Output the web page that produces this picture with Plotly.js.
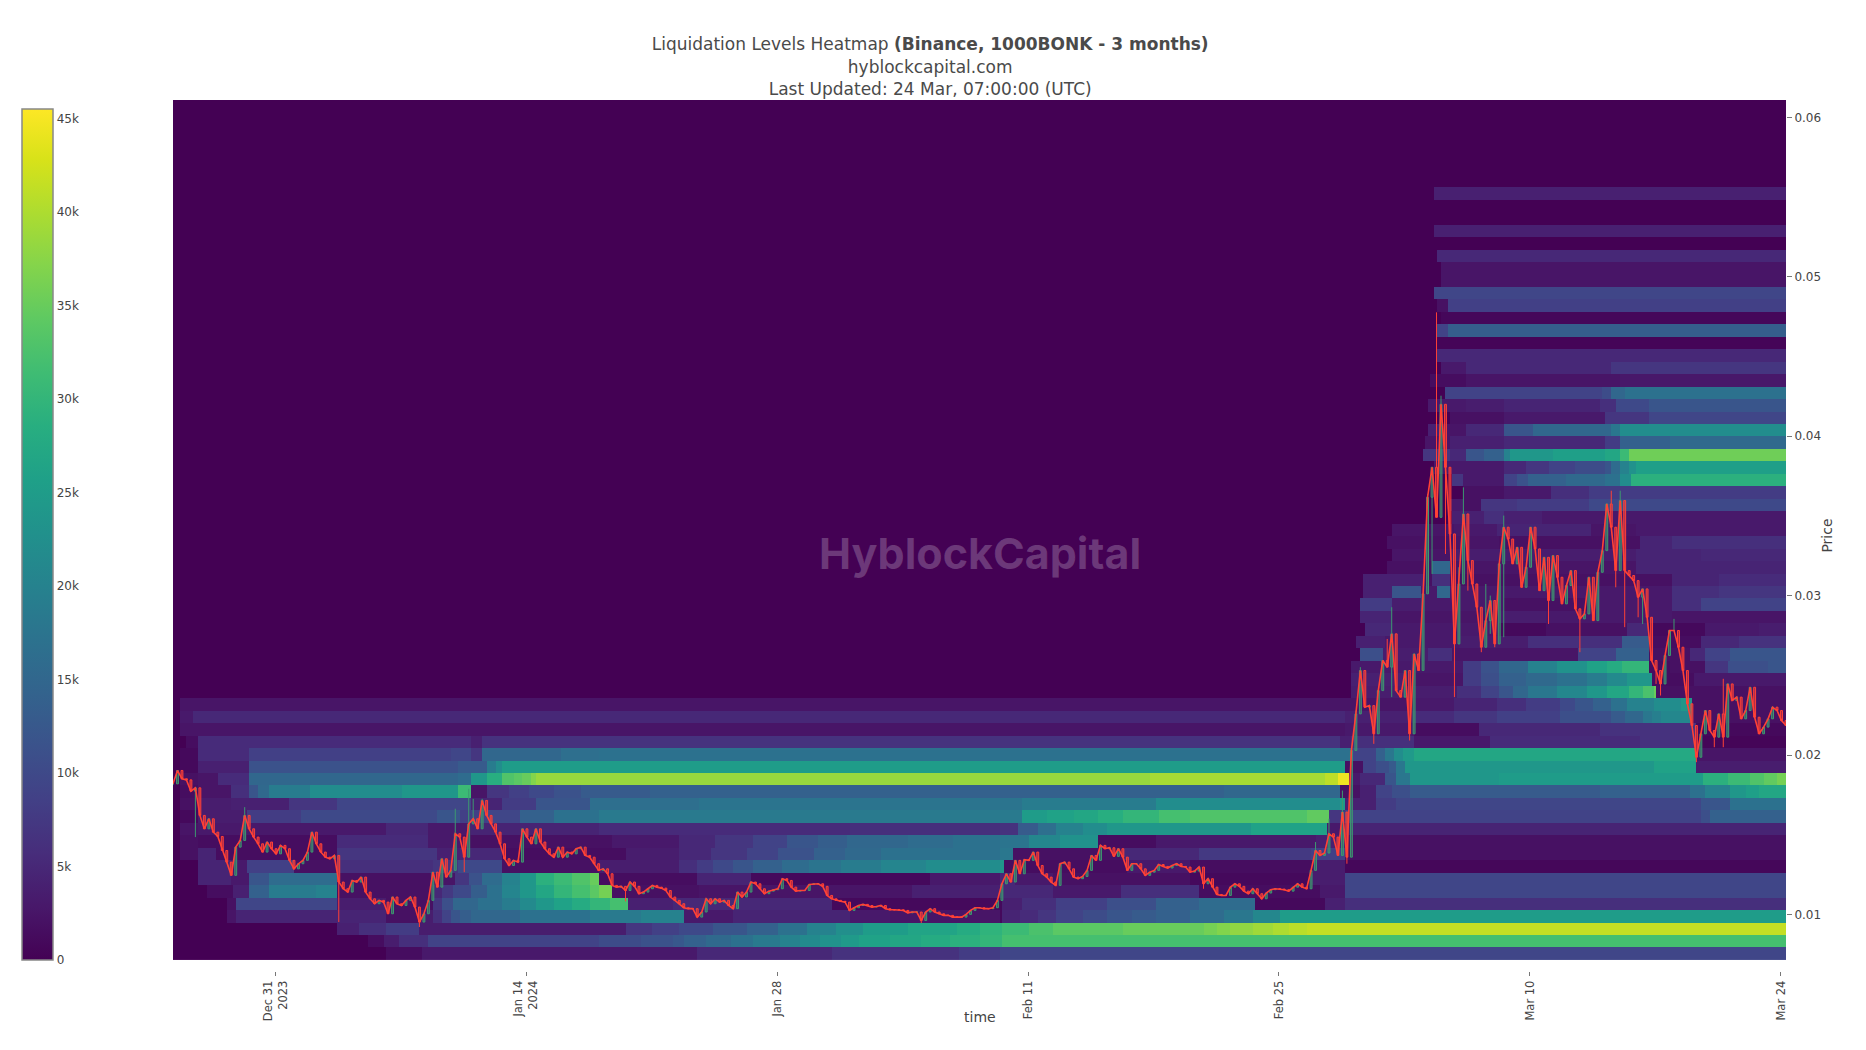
<!DOCTYPE html>
<html>
<head>
<meta charset="utf-8">
<script src="https://cdn.plot.ly/plotly-3.0.1.min.js"></script>
<style>html,body{margin:0;padding:0;background:#fff}#chart{width:1866px;height:1050px}</style>
</head>
<body>
<div id="chart"></div>
<script>
// Times are days after the first candle, prices are in units of 0.00001.
const START = "2023-12-25T07:00:00Z";
const CANDLE_HOURS = 6;
const CELL_HOURS = 3;
const CELL_COUNT = 720;
const PRICE_LOW = 0.00717;
const PRICE_BIN = 0.0007815;

const closes = [
1819,1903,1851,1844,1773,1794,1621,1537,1600,1516,1489,1401,1328,1245,1422,1464,1621,1537,1485,1443,
1391,1454,1412,1380,1433,1412,1339,1286,1318,1339,1391,1516,1443,1391,1359,1349,1370,1203,1161,1140,
1213,1203,1234,1140,1098,1067,1088,1077,1004,1109,1067,1056,1088,1109,1046,952,1004,1088,1265,1171,
1349,1234,1276,1506,1485,1359,1568,1600,1537,1715,1621,1568,1516,1443,1349,1307,1339,1328,1537,1485,
1443,1537,1454,1412,1380,1359,1422,1359,1391,1380,1412,1422,1370,1359,1318,1276,1286,1255,1182,1171,
1176,1150,1203,1176,1130,1140,1161,1182,1171,1165,1150,1109,1088,1067,1042,1036,1036,983,1015,1098,
1067,1098,1077,1088,1056,1036,1140,1109,1140,1203,1192,1161,1130,1146,1155,1161,1224,1213,1171,1146,
1150,1150,1188,1192,1192,1176,1119,1098,1088,1082,1077,1025,1042,1056,1063,1056,1046,1050,1056,1036,
1029,1029,1029,1025,1010,1015,1015,962,1015,1036,1015,1004,994,994,983,983,983,1000,1025,1042,
1042,1036,1036,1042,1088,1192,1255,1203,1339,1255,1343,1339,1391,1307,1255,1234,1203,1182,1318,1328,
1286,1234,1224,1238,1276,1370,1339,1433,1412,1418,1364,1412,1359,1276,1318,1318,1286,1245,1265,1276,
1313,1301,1291,1307,1318,1301,1297,1265,1272,1297,1192,1224,1171,1125,1119,1119,1171,1192,1176,1146,
1130,1161,1130,1098,1134,1155,1161,1159,1155,1146,1171,1192,1171,1161,1276,1401,1370,1385,1506,1485,
1370,1642,1359,2028,2258,2530,2300,2310,2133,2404,2593,2551,2760,2404,2363,2530,2133,2634,2530,3011,
3617,3805,3491,4200,3805,3387,2697,3073,3512,3220,3073,2927,2676,2843,2969,2697,3199,3429,3355,3199,
3303,3052,3178,3429,3293,3031,3240,2969,3251,3115,2948,3063,3157,2917,2854,2885,3115,2843,3146,3282,
3575,3429,3157,3596,3157,3126,3094,2990,3042,2864,2593,2530,2446,2624,2781,2781,2676,2530,2321,2185,
1986,2133,2279,2154,2112,2258,2112,2446,2342,2363,2227,2279,2425,2237,2133,2175,2227,2300,2279,2216,
2185];

// candle index -> wick end, only where the wick is visible in the picture
const wickHigh = {16:1673,63:1663,66:1788,67:1725,69:1725,255:1454,258:1600,261:1777,264:2279,265:2551,
  271:2728,272:2927,280:3638,282:4777,283:4254,284:4077,286:3240,287:3178,288:3679,289:3324,
  293:3073,294:3000,297:3502,321:3658,323:3658,335:2854,346:2478};
const wickLow = {5:1485,37:952,55:921,65:1265,101:1082,167:946,230:1161,262:1318,268:2070,272:2363,276:2091,
  280:3115,281:3136,283:3596,284:3261,286:2363,287:2822,289:3031,292:2645,294:2760,295:2676,297:2739,
  307:2822,314:2645,322:3052,324:2802,327:2864,328:2822,331:2446,332:2373,340:1955,344:2049,346:2049};

// One row per price bin from the bottom up, as pairs: start day, level in thousands.
const levelRuns = [
[0,0,11.9,1.5,13.9,3,29.2,5,36.7,6.5,43.9,8,46.15,9.5],
[0,0,10.9,1.5,11.8,3.5,12.6,6,14.2,9,23.8,10.5,26.1,11.5,27.85,12.5,28.5,14,29.8,15.5,31.1,17,32.4,18.5,33.9,20,35,21.5,36.1,23,37.2,24.5,38.2,26,40,27,41.7,28,43.4,29,45,30,46.3,32],
[0,0,9.15,4,10.4,6,11.9,8,13.8,3.5,25.3,7,26.8,8.5,28.3,10,30.1,12,32,14,33.7,17,35.4,20,37,22.5,38.5,25,41,26.5,43.75,28,45,29.5,46.3,31,47.7,32.5,49.1,34,53,35,57.5,36,58.2,37,59,38,60.2,39,61.4,40,62.3,40.8,63.3,41.5],
[0,0,3,2.5,3.5,4.5,11.9,2,13.8,3.5,14.5,6,15,9,15.5,12,16,13.5,16.6,15,19.4,17,23.3,18.5,26.1,20,28.5,3,31.25,4.5,37.8,3,40,2.5,46.15,1,46.3,4.5,47.3,5.5,48.3,7,49.3,9,50.8,10.5,52.1,12,53.5,13,54.9,14,56.7,16,58.6,18,60.2,21,61.8,25],
[0,0,3,2,3.5,9.5,9.15,3.5,11.9,2,14.5,7,15,11,15.6,15,17,17,18.4,19,19.4,21.5,20.3,24,21.2,26,22.2,28,23.3,30,24.4,32,25.4,4,27.85,5,36.7,1,46.3,4,47.4,6,49.3,8.5,52.1,11,54.9,14,57.3,16,60.4,1,64.3,4,65.4,6],
[0,0,1.9,1.5,3.35,4,4.3,14,5.4,19,8,20,9.15,2,14.5,5,15,7.5,15.6,10,16.6,13.5,17.5,17,18.4,20.5,19.4,24,20.3,27,21.2,30,22.2,32,23.3,34,23.8,36,24.5,2,29.4,2.5,41.3,4,46.3,5,49.1,3,52.85,6,57.3,1.5,64,3,65.4,9.5],
[0,0,1.4,4.5,3.3,3,4.3,12,5.4,16,9.15,2,14.5,2.5,15.7,7,16.5,11.5,17.3,16,18.4,20,19.4,24,20.3,29,21.2,31,22.2,33,23.3,35,23.8,1.5,29.2,4.5,32.3,1,42.2,3,46.15,5,47,3,49.1,2,56.75,1,63.45,3.5,65.4,9.5],
[0,0,1.4,4.5,3.3,3,4.1,8.5,6.7,2,9.15,6,14.5,7,15.85,10,18.4,2,23.7,3.5,28.3,6,29.2,8,30.1,10,31.2,12,32.4,14,34,16,35.5,17.5,37.2,19,39.5,20.5,42,22,46.15,23.5,46.4,1.5,53.2,3,56.75,1.5,63.6,3.5,65.4,0.8],
[0,0,0.4,2,1.4,4.5,2.4,1.5,9.15,7,14.7,4,16,5,18.4,1.5,25.3,3.5,28.3,5,30,7,32,9,33.8,11.5,35.7,14,37.5,15.5,39.45,17,46.15,18,46.9,2,53,5,57.3,7.5,63.45,8.5,65.4,2],
[0,0,0.4,2,1.4,1.5,9.15,5.5,14.3,3,16,2,24.55,3,28.3,5,30.3,7,32.4,9,34.3,12,36,13.5,37.6,15,41,16,43.5,17,46.15,17.5,47.7,21,49.5,23,51.6,1.5,54.9,3,63.8,4,65.4,2],
[0,0,0.4,2.5,1.4,3,11.9,5,14.3,3,16.6,4.5,23.8,5.5,37.8,6,46.15,6.5,47.1,13,48.2,16.5,49.3,20,50.7,22,52.1,24,60.1,26,64.4,3,65.4,4.5],
[0,0,0.4,1,1.4,3.5,4.1,8,7.1,10,14.7,12,16,8.5,17.5,9.5,19.4,14,21.2,17,23.8,18.5,47.4,25,48.8,26,50.2,27,51.6,28.5,53,30,55,32,56.75,33,63.3,34.5,64.55,7,65.4,9,85.2,11,85.8,14],
[0,0,0.4,2,1.4,3.5,3.3,4,6.5,7,9.15,9.5,16.6,4.5,18.4,8,20.3,12,23.3,16.5,29.4,17.5,47.4,19,54.9,22,65.1,25,65.4,4,67.1,8,68.2,9.5,85.2,12,86.9,17],
[0,0,0.4,1.5,1.4,2.5,3.3,6,4.2,12,4.8,15.5,5.4,19,7.6,22,12.7,24,15.9,31,16.6,2.5,17.5,7,18.7,8.5,19.9,10,21.3,11.5,22.7,13,26.6,14,58.6,15,65.1,2,66.2,4,67.1,9,68,11,69,13,79.6,14,84.6,17,85.5,20,86.9,24,87.7,25.5,88.5,27],
[0,0,0.4,2,1.4,2.5,2.5,5.5,4.3,15,15.85,16,16.6,24,17.5,28.5,18.4,33,19,34,19.5,35,20,37,20.3,38.5,54.5,39.5,64.2,41,64.95,44.5,65.6,3,66.2,5,67.6,12,68.3,18,69,24,74.05,25,85.4,29,86.7,31,88,33,88.8,34.5,89.5,36],
[0,0,0.4,1,1.4,4,4.3,11.5,15.85,13,17.5,19,18,22,18.4,25,65.1,25.5,65.4,2,66.4,9,67.1,11,67.9,13,68.3,18,68.75,24,82.6,26,85,3.5],
[0,0,0.4,1,1.4,5.5,4.3,8.5,15.5,9.5,16.6,7,17.3,15,21.6,16.5,23.8,17,65.8,9,67.1,14,67.6,18,68.1,22,68.6,24.5,69.2,27,81.9,27.5,85,2.5],
[0,0,0.7,1.5,1.4,5.5,16.6,4,17.3,6.5,65.1,4,65.8,6,69.2,3,73.5,5.5,81.9,6.5,85,0.5],
[0,0,0.4,2.5,65.4,3,69.2,1.5,72.9,5,79.6,6.5,85,1],
[0,0,0.4,3,1.1,5,65.4,4,69.2,5.5,71.5,7,73.9,8.5,77.4,11,80.2,13,81,15,82,18,82.5,19.5,83,21,84.8,2],
[0,0,0.4,2.5,69.2,3,71.5,4.5,73.9,6,75.5,8,77.4,10,78.3,12,79.25,14,80.2,17,81.1,20,82.6,22,84.1,24,84.7,2],
[0,0,65.8,3.5,71.65,6,73,9,73.95,12,74.8,15,75.6,18,77.2,21,78.9,24,80,27,81.2,30,82,32.5,82.6,35,82.7,2],
[0,0,65.8,4,68.75,2.5,72,8,73,11,73.95,14,75.5,15.5,77.2,17,78.9,19,80,21.5,81.1,24,82.5,1.5,84.9,3],
[0,0,65.8,3,72,8,73,11.5,74.05,15,75.6,20,77.2,23,78.9,26,80,28,80.9,30,82.4,1.5,83.55,2,85.5,7,86.7,11,89,12],
[0,0,66.3,11,67.5,3.5,70,6,71.4,2.5,78.4,9,80.45,14,82.4,2,84.65,5,85.5,9,86.9,12],
[0,0,66,4,67.6,3,71.8,3.5,75.6,6,80.9,13,82.4,1.5,85.2,5,87.4,6.5],
[0,0,66.5,5,68,3,74.05,1,76.6,2,81.1,5,82.4,1,85.5,3,88.5,3.5],
[0,0,66.3,4.5,68,2.5,74.05,3.5,76.6,3,83.6,2.5],
[0,0,66.3,8,68,3.5,69.6,3,74.3,2,78.9,3,83.6,6,85.2,9],
[0,0,66.35,4,68,12,69.6,3,70.5,15,71.3,3,83.6,6,86.3,7],
[0,0,66.35,4,69.9,2,70.3,6,71.3,2,83.6,4.5,86.3,5.5],
[0,0,67.7,2,70.3,15,71.3,2.5,81.6,4.5],
[0,0,68,2.5,71.3,3.5,81.6,4.5,85.2,5],
[0,0,67.7,2,71.5,2.5,74.05,2,81.9,4.5,83.6,6],
[0,0,68,2.5,71.5,3,73.9,4.5,79.1,2.5,81.6,3],
[0,0,71.4,4,73.1,6,74.2,4,76.4,3],
[0,0,71.3,3,72,2,73,7,75,8,79,10],
[0,0,72,2,74.2,3,76.9,6,79,8],
[0,0,71.4,7,72,3,74.3,9,75,11.5,75.6,14,77.7,15.5,79.9,17,80.75,22,81.4,29],
[0,0,70.4,3,74.3,5,75.5,7,76.8,9,78.3,10.5,79.9,12,80.3,16,80.75,20,81.2,23,81.6,25.5],
[0,0,69.8,7,71.3,5,72.15,12,73.1,14,74.2,20,74.6,24,77,25.5,79.9,27,80.75,31,81.2,35.5],
[0,0,69.9,2.5,71.3,4,74.3,5,79.9,8,80.75,14,83.55,15.5],
[0,0,70,4,70.7,2.5,72.1,5,74.3,12,75.9,15,80.25,18,80.75,22],
[0,0,71.25,2,74.3,3,79.9,7,82.4,9.5],
[0,0,70,3,72.1,3.5,74.3,4.5,79.6,6,80.45,10,82.4,12],
[0,0,71,9,79.8,10.5,80.3,15,81,17],
[0,0,70.15,1.5,72.1,2.5,80.75,2.8],
[0,0,70.7,3,72.1,5,80.2,7],
[0,0,70.5,5],
[0,0,70.5,0.5],
[0,0,70.5,9,71.1,13.5],
[0,0,70.7,0.8],
[0,0,70.5,2,71.1,8.5],
[0,0,70.4,9.5],
[0,0,70.7,2.5],
[0,0,70.75,2.5],
[0,0,70.5,5],
[0,0],
[0,0,70.4,4],
[0,0],
[0,0],
[0,0,70.4,4],
[0,0],[0,0],[0,0],[0,0],[0,0],[0,0],[0,0]
];

const xTickDates = ["2023-12-31","2024-01-14","2024-01-28","2024-02-11","2024-02-25","2024-03-10","2024-03-24"];
const xTickLabels = ["Dec 31<br>2023","Jan 14<br>2024","Jan 28","Feb 11","Feb 25","Mar 10","Mar 24"];

const startMs = Date.parse(START);
const hourMs = 3600000;

// expand the runs to one value per heatmap cell
function rowCells(runs) {
    const cells = [];
    for (let j = 0; j < CELL_COUNT; j++) {
        const day = (j + 0.5) * CELL_HOURS / 24;
        let level = 0;
        for (let r = 0; r < runs.length; r += 2) {
            if (runs[r] <= day) level = runs[r + 1];
        }
        cells.push(level * 1000);
    }
    return cells;
}

const heat = {
    type: "heatmap",
    z: levelRuns.map(rowCells),
    x0: new Date(startMs + CELL_HOURS * hourMs / 2).toISOString(),
    dx: CELL_HOURS * hourMs,
    y0: PRICE_LOW + PRICE_BIN / 2,
    dy: PRICE_BIN,
    zmin: 0,
    zmax: 45500,
    colorscale: "Viridis",
    hoverinfo: "skip",
    colorbar: {
        x: -0.0936, xanchor: "left", xpad: 0,
        y: 0.0126, yanchor: "bottom", ypad: 0,
        len: 0.977, thickness: 31,
        outlinecolor: "#888", outlinewidth: 1.5,
        tick0: 0, dtick: 5000, tickformat: "~s",
        ticks: "", tickfont: { family: "DejaVu Sans", size: 12, color: "#444" },
    },
};

const candleTimes = closes.map((_, i) => new Date(startMs + i * CANDLE_HOURS * hourMs).toISOString());
const opens = closes.map((c, i) => (i === 0 ? c : closes[i - 1]));
const highs = closes.map((c, i) => Math.max(c, opens[i], wickHigh[i] || 0) / 1e5);
const lows = closes.map((c, i) => Math.min(c, opens[i], wickLow[i] || 1e9) / 1e5);

// the close line keeps the thin candles visually joined up
const closeLine = {
    type: "scatter",
    mode: "lines",
    x: candleTimes,
    y: closes.map((v) => v / 1e5),
    line: { color: "#FF4136", width: 1.6 },
    hoverinfo: "skip",
};

const candles = {
    type: "candlestick",
    x: candleTimes,
    open: opens.map((v) => v / 1e5),
    high: highs,
    low: lows,
    close: closes.map((v) => v / 1e5),
    increasing: { line: { color: "#3D9970", width: 1 } },
    decreasing: { line: { color: "#FF4136", width: 1 } },
    hoverinfo: "skip",
    showlegend: false,
};

const layout = {
    width: 1866,
    height: 1050,
    margin: { l: 173, r: 80, t: 100, b: 79 },
    paper_bgcolor: "#fff",
    plot_bgcolor: "#fff",
    font: { family: "DejaVu Sans", color: "#444" },
    showlegend: false,
    boxgap: 0.4,
    title: {
        text: "Liquidation Levels Heatmap <b>(Binance, 1000BONK - 3 months)</b><br>hyblockcapital.com<br>Last Updated: 24 Mar, 07:00:00 (UTC)",
        font: { family: "DejaVu Sans", size: 17, color: "#4a4a4a" },
        x: 0.4985, xanchor: "center", y: 0.952, yanchor: "top",
    },
    xaxis: {
        type: "date",
        range: ["2023-12-25 07:00", "2024-03-24 07:00"],
        rangeslider: { visible: false },
        tickmode: "array",
        tickvals: xTickDates,
        ticktext: xTickLabels,
        tickangle: -90,
        ticks: "outside", ticklen: 4, tickcolor: "#777",
        tickfont: { family: "DejaVu Sans", size: 11.5, color: "#444" },
        showgrid: false, zeroline: false,
    },
    yaxis: {
        side: "right",
        range: [0.00645, 0.06109],
        dtick: 0.01,
        ticks: "outside", ticklen: 5, tickcolor: "#777",
        tickfont: { family: "DejaVu Sans", size: 12, color: "#444" },
        showgrid: false, zeroline: false,
        title: { text: "Price", standoff: 2, font: { family: "DejaVu Sans", size: 14, color: "#444" } },
    },
    annotations: [
        {
            text: "<b>HyblockCapital</b>",
            xref: "paper", yref: "y", x: 0.5, y: 0.0327,
            showarrow: false,
            font: { family: "Inter", size: 43, color: "rgba(255,255,255,0.22)" },
        },
        {
            text: "time",
            xref: "paper", yref: "paper", x: 0.5, y: -0.053, yanchor: "middle",
            showarrow: false,
            font: { family: "DejaVu Sans", size: 14, color: "#444" },
        },
    ],
};

Plotly.newPlot("chart", [heat, closeLine, candles], layout, { displayModeBar: false, staticPlot: true });
</script>
</body>
</html>
